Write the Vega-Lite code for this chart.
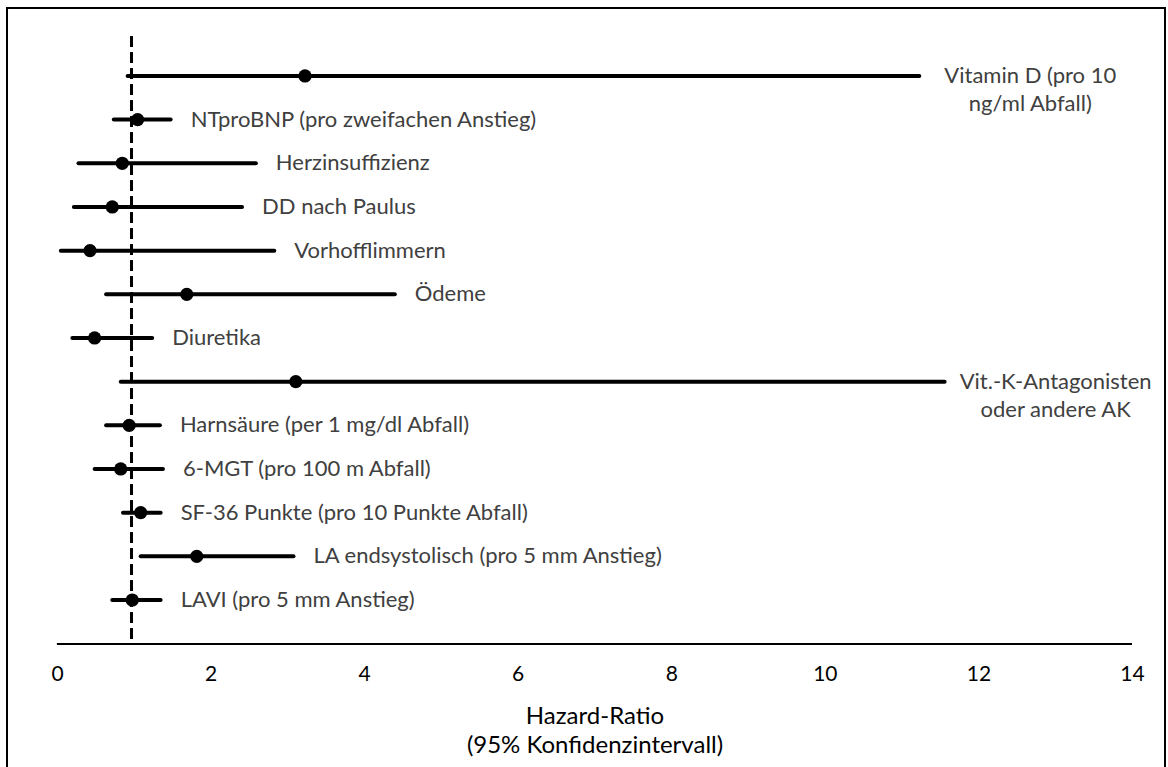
{
  "$schema": "https://vega.github.io/schema/vega-lite/v6.json",
  "width": 1158,
  "height": 790,
  "autosize": {"type": "none"},
  "padding": {"left": 7, "top": 8, "right": 3, "bottom": 0},
  "background": "white",
  "config": {"view": {"stroke": "#000", "strokeWidth": 2}, "font": "Lato"},
  "data": {
    "values": [
      {"row": 1, "label": "Vitamin D (pro 10\nng/ml Abfall)", "lo": 0.92, "hr": 3.23, "hi": 11.23},
      {"row": 2, "label": "NTproBNP (pro zweifachen Anstieg)", "lo": 0.74, "hr": 1.05, "hi": 1.48},
      {"row": 3, "label": "Herzinsuffizienz", "lo": 0.28, "hr": 0.85, "hi": 2.59},
      {"row": 4, "label": "DD nach Paulus", "lo": 0.22, "hr": 0.72, "hi": 2.41},
      {"row": 5, "label": "Vorhofflimmern", "lo": 0.05, "hr": 0.43, "hi": 2.83},
      {"row": 6, "label": "Ödeme", "lo": 0.64, "hr": 1.69, "hi": 4.40},
      {"row": 7, "label": "Diuretika", "lo": 0.20, "hr": 0.49, "hi": 1.24},
      {"row": 8, "label": "Vit.-K-Antagonisten\noder andere AK", "lo": 0.83, "hr": 3.11, "hi": 11.56},
      {"row": 9, "label": "\u2002Harnsäure (per 1 mg/dl Abfall)", "lo": 0.64, "hr": 0.94, "hi": 1.34},
      {"row": 10, "label": "6-MGT (pro 100 m Abfall)", "lo": 0.49, "hr": 0.83, "hi": 1.38},
      {"row": 11, "label": "SF-36 Punkte (pro 10 Punkte Abfall)", "lo": 0.86, "hr": 1.09, "hi": 1.35},
      {"row": 12, "label": "LA endsystolisch (pro 5 mm Anstieg)", "lo": 1.09, "hr": 1.82, "hi": 3.08},
      {"row": 13, "label": "LAVI (pro 5 mm Anstieg)", "lo": 0.72, "hr": 0.98, "hi": 1.35}
    ]
  },
  "layer": [
    {
      "mark": {"type": "rule", "strokeWidth": 4, "color": "#000", "strokeCap": "round"},
      "encoding": {
        "x": {
          "field": "lo", "type": "quantitative",
          "scale": {"domain": [-0.651, 14.43], "nice": false, "zero": false},
          "axis": {
            "values": [0, 2, 4, 6, 8, 10, 12, 14], "format": "d",
            "domain": false, "ticks": false, "tickSize": 0, "grid": false,
            "offset": -154.3,
            "labelPadding": 20, "labelFontSize": 21, "labelColor": "#000", "labelFont": "Lato",
            "title": ["Hazard-Ratio", "(95% Konfidenzintervall)"],
            "titleFont": "Lato", "titleFontSize": 24, "titleFontWeight": "normal", "titleColor": "#000",
            "titleLineHeight": 29, "titleBaseline": "middle", "titleX": 587.5, "titleY": 73, "titleAlign": "center"
          }
        },
        "x2": {"field": "hi"},
        "y": {"field": "row", "type": "quantitative", "scale": {"domain": [-0.556, 17.534], "reverse": true, "nice": false, "zero": false}, "axis": null}
      }
    },
    {
      "mark": {"type": "rule", "strokeWidth": 2.5, "color": "#000", "strokeDash": [10, 6]},
      "encoding": {
        "x": {"datum": 0.97, "type": "quantitative"},
        "y": {"datum": 0.1, "type": "quantitative"},
        "y2": {"datum": 14}
      }
    },
    {
      "mark": {"type": "rule", "strokeWidth": 1.5, "color": "#000"},
      "encoding": {
        "x": {"datum": 0, "type": "quantitative"},
        "x2": {"datum": 14},
        "y": {"datum": 14, "type": "quantitative"}
      }
    },
    {
      "mark": {"type": "point", "filled": true, "size": 175, "color": "#000", "opacity": 1},
      "encoding": {
        "x": {"field": "hr", "type": "quantitative"},
        "y": {"field": "row", "type": "quantitative"}
      }
    },
    {
      "transform": [{"filter": "indexof(datum.label, '\\n') < 0"}],
      "mark": {"type": "text", "align": "left", "baseline": "middle", "dx": 20, "font": "Lato", "fontSize": 22, "color": "#404040"},
      "encoding": {
        "x": {"field": "hi", "type": "quantitative"},
        "y": {"field": "row", "type": "quantitative"},
        "text": {"field": "label"}
      }
    },
    {
      "transform": [{"filter": "indexof(datum.label, '\\n') >= 0"}],
      "mark": {"type": "text", "align": "center", "baseline": "middle", "dx": 111, "font": "Lato", "fontSize": 22, "color": "#404040", "lineBreak": "\n", "lineHeight": 28},
      "encoding": {
        "x": {"field": "hi", "type": "quantitative"},
        "y": {"field": "row", "type": "quantitative"},
        "text": {"field": "label"}
      }
    }
  ]
}
